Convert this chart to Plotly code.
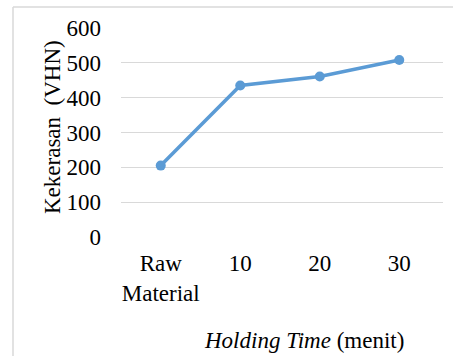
import plotly.graph_objects as go

categories = ["Raw<br>Material", "10", "20", "30"]
hardness = [205, 435, 461, 508]
y_ticks = [0, 100, 200, 300, 400, 500, 600]

W, H = 453, 356
L, R, T, B = 121, 443, 28, 237

def px(x):
    return (x - L) / (R - L)

def py(y):
    return (B - y) / (B - T)

font = dict(family="Liberation Serif, Times New Roman, serif", size=23, color="#000000")

fig = go.Figure()
fig.add_trace(go.Scatter(
    x=list(range(len(categories))), y=hardness, mode="lines+markers",
    line=dict(color="#5B9BD5", width=3.5),
    marker=dict(color="#5B9BD5", size=10),
    showlegend=False,
))

fig.update_layout(
    width=W, height=H,
    margin=dict(l=L, r=W - R, t=T, b=H - B),
    paper_bgcolor="white", plot_bgcolor="white",
    font=font,
    xaxis=dict(
        tickmode="array", tickvals=list(range(len(categories))), ticktext=categories,
        range=[-0.5, 3.55], showgrid=False, zeroline=False, showline=False,
        ticks="", tickfont=font, ticklabelstandoff=10,
    ),
    yaxis=dict(
        tickmode="array", tickvals=y_ticks, ticktext=[str(v) for v in y_ticks],
        range=[0, 600], showgrid=True, gridcolor="#d9d9d9", gridwidth=1,
        zeroline=False, showline=False, ticks="", tickfont=font,
        ticklabelstandoff=19,
    ),
    shapes=[
        dict(type="line", xref="paper", yref="paper",
             x0=px(13), x1=px(13), y0=py(360), y1=py(7),
             line=dict(color="#d9d9d9", width=1.5)),
        dict(type="line", xref="paper", yref="paper",
             x0=px(13), x1=px(460), y0=py(7), y1=py(7),
             line=dict(color="#d9d9d9", width=1.5)),
    ],
    annotations=[
        dict(text="Kekerasan  (VHN)", xref="paper", yref="paper",
             x=px(52), y=py(127), textangle=-90, showarrow=False,
             xanchor="center", yanchor="middle", font=font),
        dict(text="<i>Holding Time</i> (menit)", xref="paper", yref="paper",
             x=px(304), y=py(340), showarrow=False,
             xanchor="center", yanchor="middle", font=font),
    ],
)

fig.write_html("out.html", post_script="document.body.style.margin='0';",
               config={"displayModeBar": False})
